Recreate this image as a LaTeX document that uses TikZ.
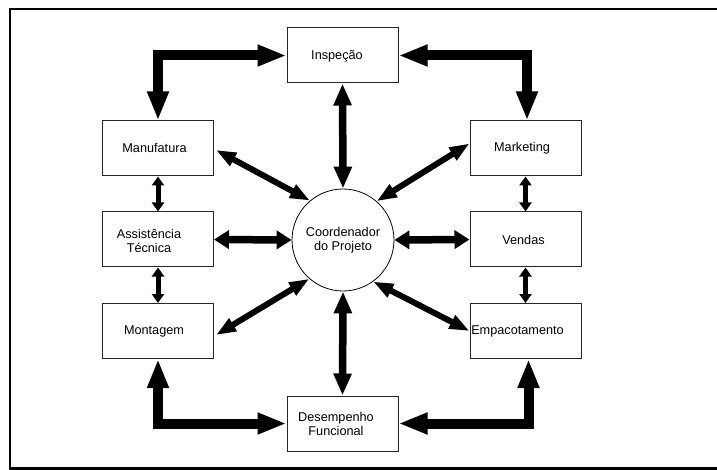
\documentclass[tikz,border=0pt]{standalone}
\usepackage{fontspec}
\setmainfont{Liberation Sans}
\usetikzlibrary{arrows.meta,calc}
\begin{document}
\begin{tikzpicture}[x=1pt,y=-1pt,
 box/.style={draw=black!85,line width=1pt,minimum width=111pt,minimum height=55pt,inner sep=0pt},
 txt/.style={font=\fontsize{12.7pt}{14.5pt}\selectfont,align=center,inner sep=0pt},
 big/.style={line width=10pt,line join=miter,{Triangle[length=29pt,width=20pt]}-{Triangle[length=29pt,width=20pt]}},
 mid/.style={line width=6pt,{Triangle[length=20pt,width=14pt]}-{Triangle[length=20pt,width=14pt]}},
 midv/.style={line width=7.5pt,{Triangle[length=22pt,width=17pt]}-{Triangle[length=22pt,width=17pt]}},
 midh/.style={line width=7.5pt,{Triangle[length=15pt,width=18pt]}-{Triangle[length=15pt,width=18pt]}},
 small/.style={line width=5pt,{Triangle[length=9pt,width=12pt]}-{Triangle[length=9pt,width=12pt]}}]
\useasboundingbox (0,0) rectangle (717,470);
\draw[line width=2.5pt] (718,9) -- (10,9) -- (10,468.5) -- (718,468.5);

\node[box] (insp) at (342.5,55.5) {};
\node[box] (manu) at (158,148.5) {};
\node[box] (mark) at (525.5,148.5) {};
\node[box] (assi) at (158,239.5) {};
\node[box] (vend) at (525.5,239.5) {};
\node[box] (mont) at (158,331) {};
\node[box] (emp) at (525.5,331) {};
\node[box] (des) at (342.5,423.5) {};
\node[draw,line width=0.8pt,circle,minimum size=102pt,inner sep=0pt,txt] (coord) at (343,240) {Coordenador\\do Projeto};

\node[txt] (inspt) at (337,56) {Inspeção};
\node[txt] (manut) at (154.5,148) {Manufatura};
\node[txt] (markt) at (522,148) {Marketing};
\node[txt] (assit) at (149,241) {Assistência\\Técnica};
\node[txt] (vendt) at (523.5,240) {Vendas};
\node[txt] (montt) at (154,331) {Montagem};
\node[txt] (empt) at (517.5,331) {Empacotamento};
\node[txt] (dest) at (336,424) {Desempenho\\Funcional};

\draw[big] (manu.north) |- (insp.west);
\draw[big] ([xshift=1.5pt]mark.north) |- (insp.east);
\draw[big] (mont.south) |- (des.west);
\draw[big] ([xshift=3pt]emp.south) |- (des.east);

\draw[midv] (insp.south) -- (coord.north);
\draw[midv] (coord.south) -- (des.north);
\draw[mid] ([xshift=2pt,yshift=-1.5pt]manu.east) -- (coord.130);
\draw[mid] ([yshift=5pt]mark.west) -- (coord.49);
\draw[midh] (assi.east) -- (coord.west);
\draw[midh] (vend.west) -- (coord.east);
\draw[mid] ([xshift=2pt,yshift=-4pt]mont.east) -- (coord.229);
\draw[mid] (emp.west) -- (coord.306);

\draw[small] (manu.south) -- (assi.north);
\draw[small] (mark.south) -- (vend.north);
\draw[small] (assi.south) -- (mont.north);
\draw[small] (vend.south) -- (emp.north);
\end{tikzpicture}
\end{document}
